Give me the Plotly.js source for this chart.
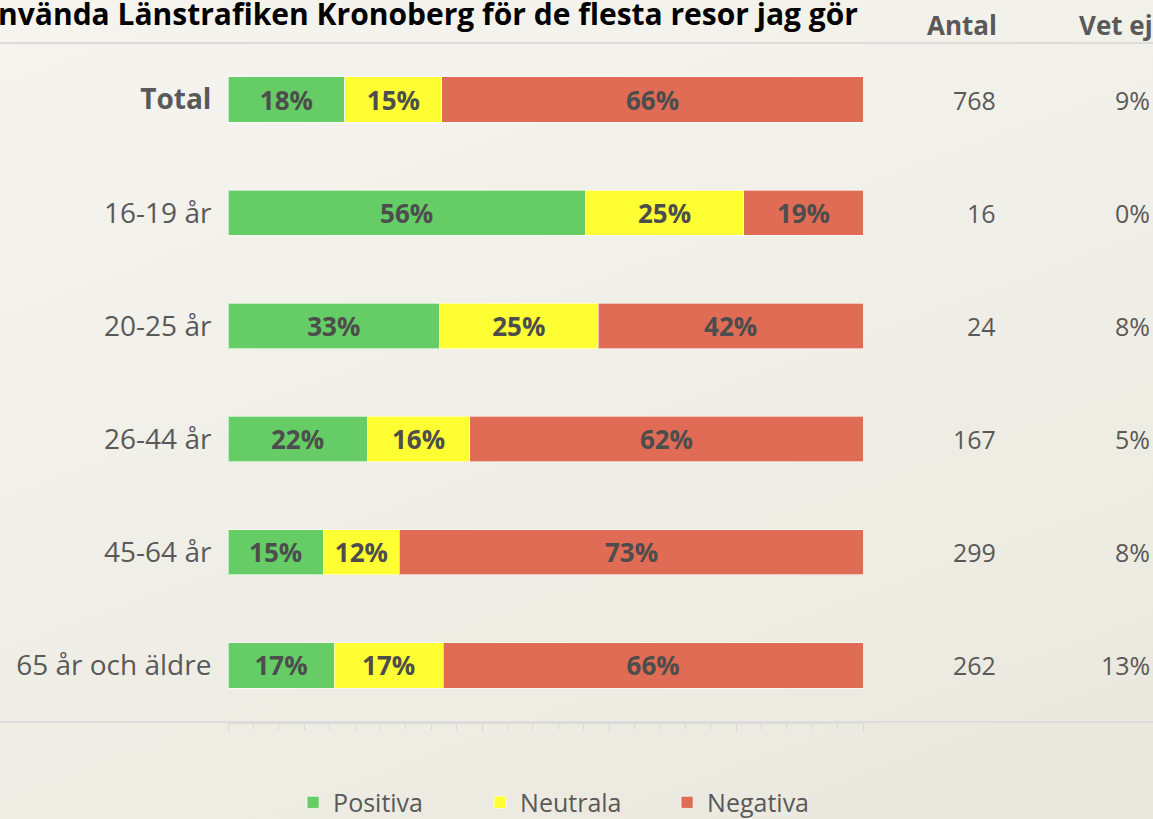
<!DOCTYPE html>
<html>
<head>
<meta charset="utf-8">
<script src="https://cdn.plot.ly/plotly-3.0.1.min.js"></script>
<style>
  html, body { margin: 0; padding: 0; }
  body { width: 1153px; height: 819px; overflow: hidden;
         background: linear-gradient(160deg, #f5f4ef 0%, #f0efe7 50%, #eae8dd 100%); }
  #chart { width: 1153px; height: 819px; }
</style>
</head>
<body>
<div id="chart"></div>
<script>
// ---- data ----
const categories = ['Total', '16-19 år', '20-25 år', '26-44 år', '45-64 år', '65 år och äldre'];
const positiva   = [0.184, 0.5625, 0.333, 0.219, 0.150, 0.167];
const neutrala   = [0.153, 0.25,   0.25,  0.162, 0.120, 0.172];
const negativa   = [0.663, 0.1875, 0.417, 0.619, 0.731, 0.661];
const antal      = ['768', '16', '24', '167', '299', '262'];
const vetEj      = ['9%', '0%', '8%', '5%', '8%', '13%'];
const seriesNames  = ['Positiva', 'Neutrala', 'Negativa'];
const seriesColors = ['#66cc66', '#ffff33', '#e06c55'];
const titleText = 'Jag kan använda Länstrafiken Kronoberg för de flesta resor jag gör';
const colHeaders = ['Antal', 'Vet ej'];

const FONT = 'Open Sans, Noto Sans, sans-serif';
const TXT = '#595959';

const seriesVals = [positiva, neutrala, negativa];
const traces = seriesVals.map((vals, i) => ({
  type: 'bar', orientation: 'h',
  name: seriesNames[i],
  y: categories, x: vals,
  marker: { color: seriesColors[i], line: { color: 'rgba(255,255,255,0.6)', width: 1 } },
  texttemplate: '%{x:.0%}',
  textposition: 'inside', insidetextanchor: 'middle', textangle: 0,
  textfont: { family: FONT, size: 26, color: '#4d4d4d', weight: 'bold' },
  hoverinfo: 'skip'
}));

const annotations = [];
categories.forEach((c, k) => {
  annotations.push({ xref: 'paper', yref: 'y', x: 1.213, y: c, xanchor: 'right', yanchor: 'middle',
    text: antal[k], showarrow: false, font: { family: FONT, size: 25, color: TXT } });
  annotations.push({ xref: 'paper', yref: 'y', x: 1.455, y: c, xanchor: 'right', yanchor: 'middle',
    text: vetEj[k], showarrow: false, font: { family: FONT, size: 25, color: TXT } });
});
annotations.push({ xref: 'paper', yref: 'paper', x: 1.214, y: 1.027, xanchor: 'right', yanchor: 'middle',
  text: colHeaders[0], showarrow: false, font: { family: FONT, size: 26, color: TXT, weight: 'bold' } });
annotations.push({ xref: 'paper', yref: 'paper', x: 1.46, y: 1.027, xanchor: 'right', yanchor: 'middle',
  text: colHeaders[1], showarrow: false, font: { family: FONT, size: 26, color: TXT, weight: 'bold' } });

const layout = {
  width: 1153, height: 819,
  margin: { l: 228, r: 290, t: 43, b: 97 },
  paper_bgcolor: 'rgba(0,0,0,0)', plot_bgcolor: 'rgba(0,0,0,0)',
  barmode: 'stack', bargap: 0.6,
  font: { family: FONT, color: TXT },
  title: {
    text: titleText, xref: 'paper', x: 0.992, xanchor: 'right',
    yref: 'container', y: 0.982, yanchor: 'middle',
    font: { family: FONT, size: 30, color: '#000000', weight: 'bold' }
  },
  xaxis: {
    range: [0, 1], showgrid: false, zeroline: false, showticklabels: false,
    showline: true, linecolor: '#dcdcdc', linewidth: 2,
    ticks: 'outside', ticklen: 8, tickcolor: '#d9d9d9', tickwidth: 1, dtick: 0.2, tick0: 0,
    minor: { ticks: 'outside', ticklen: 6, tickcolor: '#d9d9d9', tickwidth: 1, dtick: 0.04, showgrid: false },
    fixedrange: true
  },
  yaxis: {
    type: 'category', autorange: 'reversed', showgrid: false, zeroline: false, showline: false,
    tickvals: categories,
    ticktext: categories.map((c, k) => k === 0 ? '<b>' + c + '</b>' : c),
    ticks: 'outside', ticklen: 10, tickcolor: 'rgba(0,0,0,0)',
    tickfont: { family: FONT, size: 28, color: TXT }
  },
  showlegend: true,
  legend: {
    orientation: 'h', xref: 'paper', yref: 'container', x: 0.1025, xanchor: 'left', y: 0.02, yanchor: 'middle',
    font: { family: FONT, size: 25, color: TXT }, itemwidth: 30,
    entrywidth: 142, entrywidthmode: 'pixels', traceorder: 'normal'
  },
  shapes: [
    { type: 'line', xref: 'paper', yref: 'paper', x0: -0.5, x1: 1.5, y0: 1, y1: 1,
      line: { color: '#dcdcdc', width: 2 } },
    { type: 'line', xref: 'paper', yref: 'paper', x0: -0.5, x1: 1.5, y0: 0, y1: 0,
      line: { color: '#dcdcdc', width: 2 } }
  ],
  annotations: annotations
};

Plotly.newPlot('chart', traces, layout, { displayModeBar: false, staticPlot: true });
</script>
</body>
</html>
